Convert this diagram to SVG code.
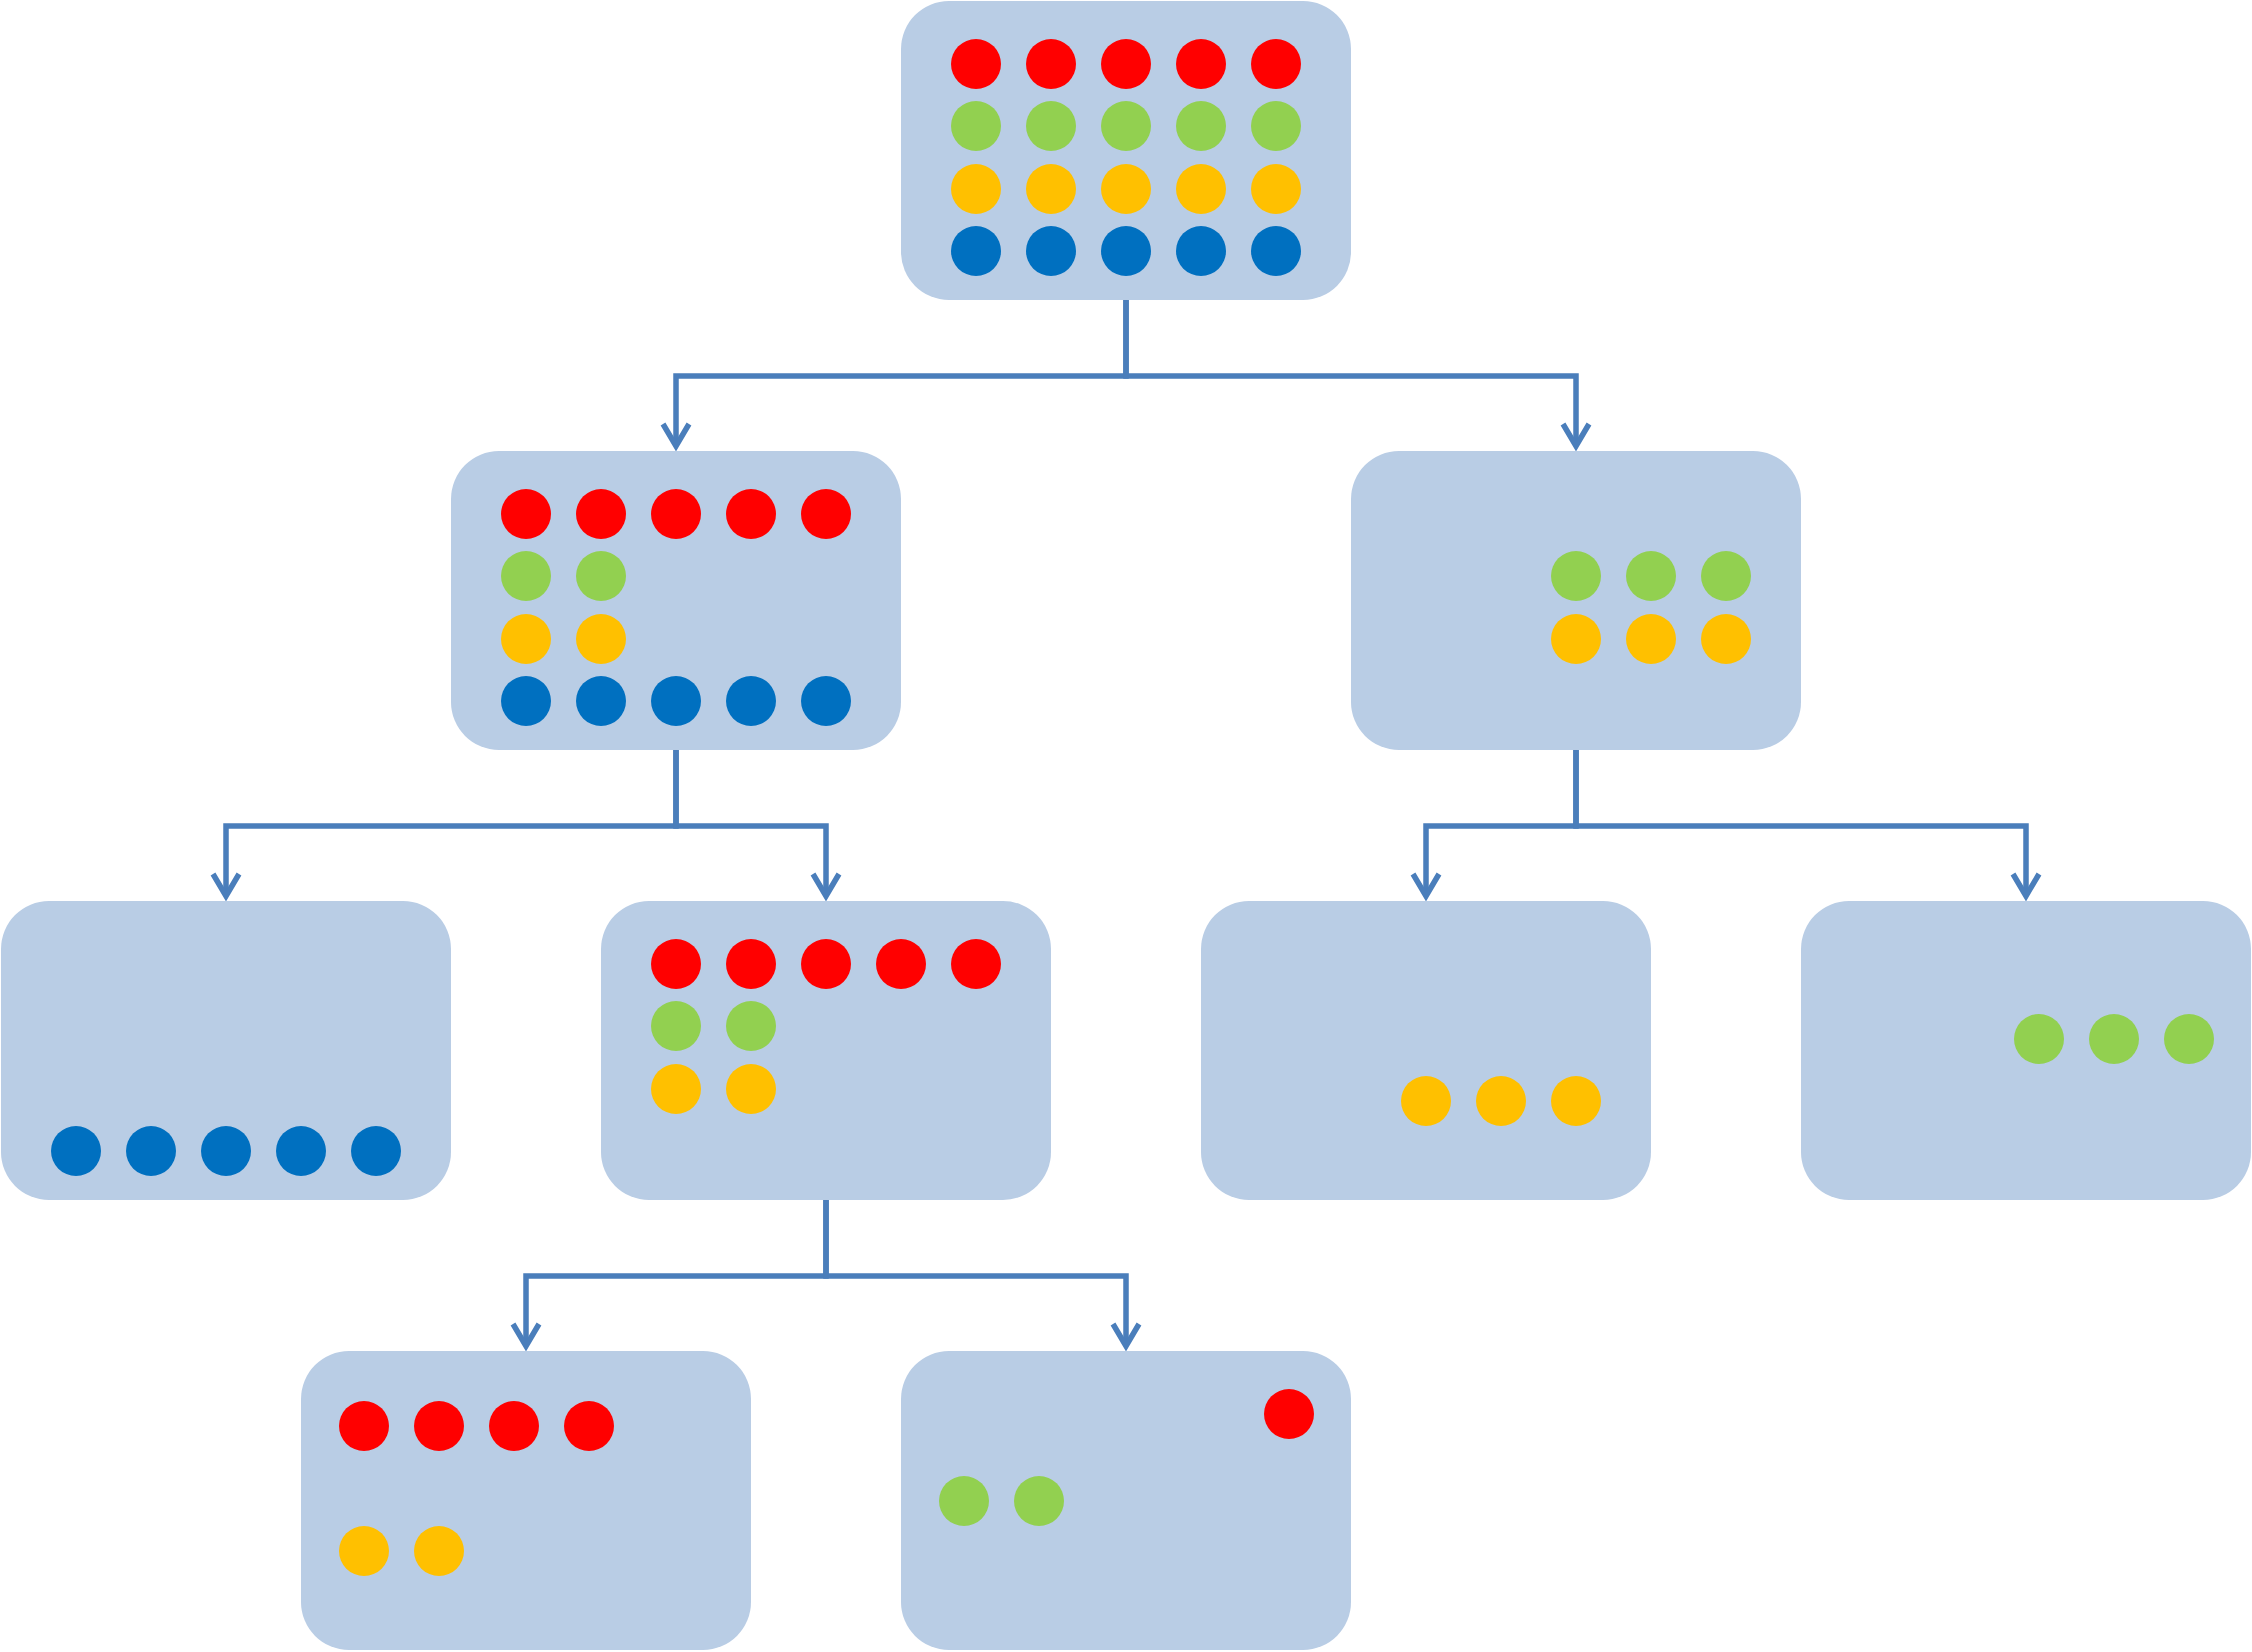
<svg xmlns="http://www.w3.org/2000/svg" width="2252" height="1652" viewBox="0 0 2252 1652">
<style>
.box{fill:#B9CDE5}
.r{fill:#FF0000}
.g{fill:#92D050}
.o{fill:#FFC000}
.b{fill:#0070C0}
.edge{fill:none;stroke:#4A7EBB;stroke-width:5.5;marker-end:url(#arr)}
</style>
<defs>
<marker id="arr" markerUnits="userSpaceOnUse" markerWidth="40" markerHeight="40" viewBox="-20 -30 40 40" refX="0" refY="0" orient="auto" overflow="visible">
<path d="M-22,-13 L0,0 L-22,13" fill="none" stroke="#4A7EBB" stroke-width="5.5" stroke-linejoin="miter"/>
</marker>
</defs>
<rect width="2252" height="1652" fill="#FFFFFF"/>
<g id="connectors">
<path class="edge" d="M1126,300 V376 H676 V446"/>
<path class="edge" d="M1126,300 V376 H1576 V446"/>
<path class="edge" d="M676,750 V826 H226 V896"/>
<path class="edge" d="M676,750 V826 H826 V896"/>
<path class="edge" d="M1576,750 V826 H1426 V896"/>
<path class="edge" d="M1576,750 V826 H2026 V896"/>
<path class="edge" d="M826,1200 V1276 H526 V1346"/>
<path class="edge" d="M826,1200 V1276 H1126 V1346"/>
</g>
<g id="node-root">
<rect class="box" x="901" y="1" width="450" height="299" rx="48"/>
<g class="r"><circle cx="976" cy="64" r="25"/><circle cx="1051" cy="64" r="25"/><circle cx="1126" cy="64" r="25"/><circle cx="1201" cy="64" r="25"/><circle cx="1276" cy="64" r="25"/></g>
<g class="g"><circle cx="976" cy="126" r="25"/><circle cx="1051" cy="126" r="25"/><circle cx="1126" cy="126" r="25"/><circle cx="1201" cy="126" r="25"/><circle cx="1276" cy="126" r="25"/></g>
<g class="o"><circle cx="976" cy="189" r="25"/><circle cx="1051" cy="189" r="25"/><circle cx="1126" cy="189" r="25"/><circle cx="1201" cy="189" r="25"/><circle cx="1276" cy="189" r="25"/></g>
<g class="b"><circle cx="976" cy="251" r="25"/><circle cx="1051" cy="251" r="25"/><circle cx="1126" cy="251" r="25"/><circle cx="1201" cy="251" r="25"/><circle cx="1276" cy="251" r="25"/></g>
</g>
<g id="node-l1-left">
<rect class="box" x="451" y="451" width="450" height="299" rx="48"/>
<g class="r"><circle cx="526" cy="514" r="25"/><circle cx="601" cy="514" r="25"/><circle cx="676" cy="514" r="25"/><circle cx="751" cy="514" r="25"/><circle cx="826" cy="514" r="25"/></g>
<g class="g"><circle cx="526" cy="576" r="25"/><circle cx="601" cy="576" r="25"/></g>
<g class="o"><circle cx="526" cy="639" r="25"/><circle cx="601" cy="639" r="25"/></g>
<g class="b"><circle cx="526" cy="701" r="25"/><circle cx="601" cy="701" r="25"/><circle cx="676" cy="701" r="25"/><circle cx="751" cy="701" r="25"/><circle cx="826" cy="701" r="25"/></g>
</g>
<g id="node-l1-right">
<rect class="box" x="1351" y="451" width="450" height="299" rx="48"/>
<g class="g"><circle cx="1576" cy="576" r="25"/><circle cx="1651" cy="576" r="25"/><circle cx="1726" cy="576" r="25"/></g>
<g class="o"><circle cx="1576" cy="639" r="25"/><circle cx="1651" cy="639" r="25"/><circle cx="1726" cy="639" r="25"/></g>
</g>
<g id="node-l2-a">
<rect class="box" x="1" y="901" width="450" height="299" rx="48"/>
<g class="b"><circle cx="76" cy="1151" r="25"/><circle cx="151" cy="1151" r="25"/><circle cx="226" cy="1151" r="25"/><circle cx="301" cy="1151" r="25"/><circle cx="376" cy="1151" r="25"/></g>
</g>
<g id="node-l2-b">
<rect class="box" x="601" y="901" width="450" height="299" rx="48"/>
<g class="r"><circle cx="676" cy="964" r="25"/><circle cx="751" cy="964" r="25"/><circle cx="826" cy="964" r="25"/><circle cx="901" cy="964" r="25"/><circle cx="976" cy="964" r="25"/></g>
<g class="g"><circle cx="676" cy="1026" r="25"/><circle cx="751" cy="1026" r="25"/></g>
<g class="o"><circle cx="676" cy="1089" r="25"/><circle cx="751" cy="1089" r="25"/></g>
</g>
<g id="node-l2-c">
<rect class="box" x="1201" y="901" width="450" height="299" rx="48"/>
<g class="o"><circle cx="1426" cy="1101" r="25"/><circle cx="1501" cy="1101" r="25"/><circle cx="1576" cy="1101" r="25"/></g>
</g>
<g id="node-l2-d">
<rect class="box" x="1801" y="901" width="450" height="299" rx="48"/>
<g class="g"><circle cx="2039" cy="1039" r="25"/><circle cx="2114" cy="1039" r="25"/><circle cx="2189" cy="1039" r="25"/></g>
</g>
<g id="node-l3-a">
<rect class="box" x="301" y="1351" width="450" height="299" rx="48"/>
<g class="r"><circle cx="364" cy="1426" r="25"/><circle cx="439" cy="1426" r="25"/><circle cx="514" cy="1426" r="25"/><circle cx="589" cy="1426" r="25"/></g>
<g class="o"><circle cx="364" cy="1551" r="25"/><circle cx="439" cy="1551" r="25"/></g>
</g>
<g id="node-l3-b">
<rect class="box" x="901" y="1351" width="450" height="299" rx="48"/>
<circle class="r" cx="1289" cy="1414" r="25"/>
<g class="g"><circle cx="964" cy="1501" r="25"/><circle cx="1039" cy="1501" r="25"/></g>
</g>
</svg>
